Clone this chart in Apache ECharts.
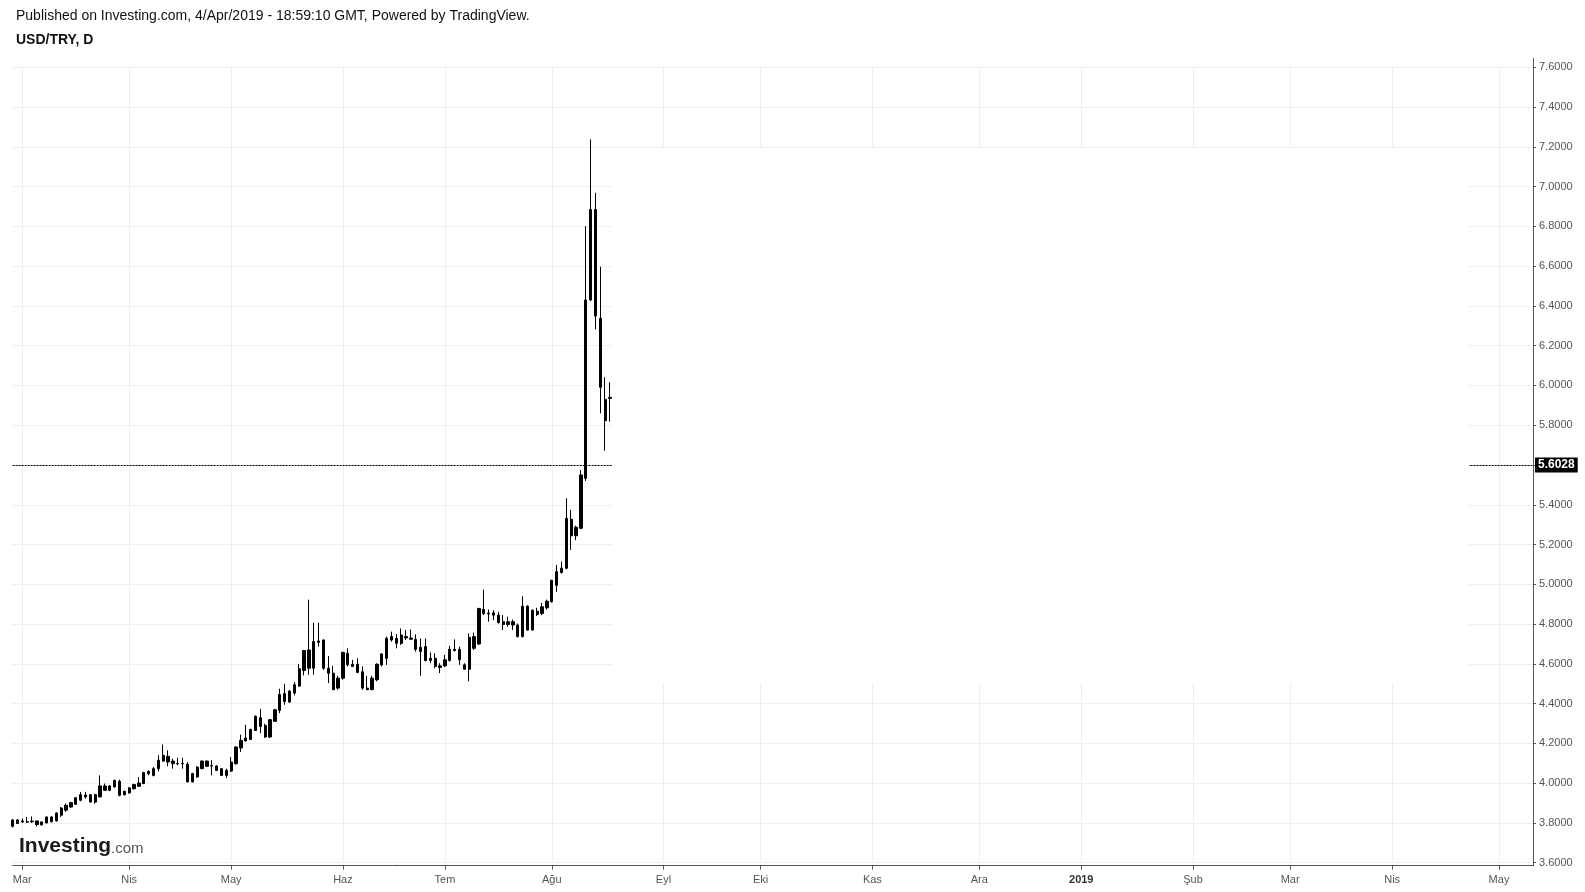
<!DOCTYPE html>
<html>
<head>
<meta charset="utf-8">
<script src="https://cdn.jsdelivr.net/npm/echarts@6/dist/echarts.min.js"></script>
<style>
html,body{margin:0;padding:0;background:#fff;}
#chart{width:1585px;height:892px;}
</style>
</head>
<body>
<div id="chart"></div>
<script>
// ---- data (USD/TRY daily) ----
const startDate = '2018-02-27';
const categoryCount = 314;
const monthNames = ['Oca','Şub','Mar','Nis','May','Haz','Tem','Ağu','Eyl','Eki','Kas','Ara'];
const yTicks = { min: 3.6, max: 7.6, step: 0.2 };
const lastPrice = 5.6028;
const headerText = 'Published on Investing.com, 4/Apr/2019 - 18:59:10 GMT, Powered by TradingView.';
const symbolText = 'USD/TRY, D';

const opens = [
3.783,3.797,3.805,3.806,3.806,3.810,3.790,3.800,3.806,3.810,
3.839,3.864,3.880,3.894,3.914,3.931,3.942,3.905,3.931,3.986,
3.964,3.981,4.009,3.942,3.951,3.972,3.984,3.998,4.048,4.039,
4.073,4.111,4.135,4.111,4.099,4.097,4.095,4.006,4.031,4.073,
4.111,4.086,4.086,4.073,4.039,4.061,4.098,4.177,4.212,4.220,
4.265,4.329,4.290,4.232,4.311,4.366,4.411,4.408,4.453,4.488,
4.567,4.670,4.578,4.715,4.720,4.578,4.553,4.478,4.528,4.653,
4.598,4.598,4.560,4.478,4.470,4.520,4.595,4.628,4.720,4.728,
4.703,4.737,4.730,4.723,4.683,4.687,4.617,4.628,4.590,4.590,
4.617,4.673,4.673,4.595,4.573,4.737,4.700,4.873,4.855,4.857,
4.845,4.812,4.798,4.812,4.795,4.737,4.890,4.770,4.865,4.853,
4.882,4.912,4.995,5.059,5.081,5.327,5.244,5.282,5.533,6.430,
6.885,6.337,5.930,5.935];
const highs = [
3.819,3.818,3.822,3.830,3.833,3.812,3.807,3.833,3.834,3.853,
3.880,3.897,3.906,3.930,3.956,3.956,3.945,3.947,4.039,3.998,
3.990,4.018,4.018,3.962,3.980,3.997,4.031,4.057,4.064,4.081,
4.140,4.195,4.165,4.123,4.128,4.128,4.106,4.052,4.085,4.115,
4.114,4.115,4.090,4.076,4.073,4.131,4.185,4.244,4.294,4.274,
4.341,4.374,4.299,4.323,4.374,4.475,4.500,4.468,4.508,4.600,
4.670,4.923,4.807,4.807,4.723,4.640,4.590,4.540,4.662,4.678,
4.620,4.628,4.587,4.540,4.540,4.603,4.653,4.737,4.762,4.750,
4.778,4.770,4.773,4.748,4.728,4.728,4.657,4.653,4.603,4.645,
4.690,4.723,4.687,4.603,4.753,4.757,4.882,4.973,4.873,4.870,
4.862,4.845,4.837,4.823,4.803,4.940,4.895,4.873,4.882,4.907,
4.923,5.023,5.098,5.115,5.433,5.374,5.295,5.575,6.801,7.237,
6.969,6.597,6.041,6.016];
const lows = [
3.777,3.795,3.800,3.800,3.800,3.783,3.786,3.798,3.803,3.808,
3.830,3.855,3.876,3.891,3.909,3.922,3.902,3.897,3.928,3.961,
3.960,3.977,3.934,3.938,3.948,3.968,3.982,3.995,4.039,4.034,
4.059,4.108,4.085,4.073,4.090,4.073,4.005,4.004,4.028,4.070,
4.082,4.039,4.061,4.036,4.026,4.056,4.093,4.157,4.210,4.217,
4.262,4.252,4.228,4.228,4.308,4.352,4.394,4.404,4.441,4.485,
4.542,4.545,4.545,4.687,4.570,4.503,4.468,4.470,4.520,4.587,
4.585,4.553,4.470,4.468,4.468,4.512,4.587,4.595,4.712,4.678,
4.695,4.720,4.720,4.662,4.540,4.612,4.603,4.578,4.553,4.583,
4.612,4.662,4.595,4.570,4.512,4.670,4.695,4.845,4.812,4.820,
4.803,4.770,4.787,4.770,4.733,4.733,4.767,4.767,4.840,4.845,
4.873,4.908,4.962,5.055,5.075,5.173,5.222,5.277,5.520,6.425,
6.282,5.860,5.672,5.818];
const closes = [
3.815,3.815,3.810,3.804,3.809,3.792,3.805,3.830,3.830,3.850,
3.875,3.889,3.902,3.927,3.942,3.940,3.905,3.942,3.986,3.964,
3.986,4.014,3.939,3.959,3.976,3.993,4.001,4.053,4.059,4.073,
4.115,4.140,4.106,4.098,4.097,4.099,4.006,4.048,4.081,4.111,
4.085,4.088,4.064,4.039,4.064,4.106,4.182,4.215,4.227,4.270,
4.336,4.285,4.232,4.319,4.369,4.446,4.450,4.463,4.495,4.575,
4.667,4.578,4.712,4.708,4.578,4.553,4.470,4.528,4.657,4.595,
4.587,4.557,4.478,4.470,4.528,4.598,4.650,4.728,4.737,4.703,
4.745,4.730,4.724,4.673,4.662,4.617,4.628,4.587,4.582,4.620,
4.673,4.667,4.620,4.573,4.733,4.678,4.878,4.853,4.851,4.845,
4.807,4.798,4.812,4.795,4.737,4.890,4.770,4.870,4.848,4.887,
4.915,5.020,5.064,5.081,5.332,5.244,5.287,5.550,6.430,6.885,
6.349,5.991,5.823,5.940];

// ---- category axis: weekdays ----
const dates = [];
(function(){
  const d = new Date(startDate + 'T00:00:00Z');
  while (dates.length < categoryCount) {
    const wd = d.getUTCDay();
    if (wd !== 0 && wd !== 6) dates.push(d.toISOString().slice(0,10));
    d.setUTCDate(d.getUTCDate() + 1);
  }
})();
const isMonthStart = dates.map((s, i) => i > 0 && s.slice(5,7) !== dates[i-1].slice(5,7));
const candleData = opens.map((o, i) => [o, closes[i], lows[i], highs[i]]);

const chart = echarts.init(document.getElementById('chart'), null, {renderer: 'canvas'});
const axisColor = '#555555';
const gridColor = '#efefef';
const FONT = 'Liberation Sans, Arial, sans-serif';
const showIdx = (idx) => isMonthStart[idx];

chart.setOption({
  animation: false,
  backgroundColor: '#ffffff',
  title: [
    {text: headerText, left: 16, top: 9, padding: 0,
     textStyle: {fontFamily: FONT, fontSize: 14, fontWeight: 'normal', color: '#111'}},
    {text: symbolText, left: 16, top: 33, padding: 0,
     textStyle: {fontFamily: FONT, fontSize: 14, fontWeight: 'bold', color: '#111'}}
  ],
  grid: {left: 12.6, right: 52, top: 67.3, bottom: 29.3, containLabel: false},
  xAxis: {
    type: 'category',
    data: dates,
    boundaryGap: false,
    offset: 3,
    axisLine: {show: true, lineStyle: {color: axisColor, width: 1}},
    axisTick: {show: true, interval: showIdx, length: 4, lineStyle: {color: axisColor}},
    axisLabel: {
      interval: showIdx, margin: 9, color: '#555',
      fontFamily: FONT, fontSize: 11,
      formatter: (v) => {
        const m = parseInt(v.slice(5,7), 10) - 1;
        return m === 0 ? '{b|' + v.slice(0,4) + '}' : monthNames[m];
      },
      rich: {b: {fontWeight: 'bold', color: '#333', fontSize: 11, fontFamily: FONT}}
    },
    splitLine: {show: true, interval: showIdx, lineStyle: {color: gridColor, width: 1}}
  },
  yAxis: {
    type: 'value',
    position: 'right',
    min: yTicks.min, max: yTicks.max, interval: yTicks.step,
    axisLine: {show: true, lineStyle: {color: axisColor, width: 1}},
    axisTick: {show: true, length: 3, lineStyle: {color: axisColor}},
    axisLabel: {margin: 6, color: '#555', fontFamily: FONT, fontSize: 11,
      formatter: (v) => v.toFixed(4)},
    splitLine: {show: true, lineStyle: {color: gridColor, width: 1}}
  },
  series: [{
    type: 'candlestick',
    data: candleData,
    barWidth: 2.8,
    clip: false,
    itemStyle: {color: '#000', color0: '#000', borderColor: '#000', borderColor0: '#000', borderColorDoji: '#000', borderWidth: 1},
    markLine: {
      silent: true, symbol: 'none', animation: false,
      data: [{yAxis: lastPrice}],
      lineStyle: {color: '#000', type: [2, 1], width: 1},
      label: {position: 'end', distance: 2, formatter: lastPrice.toFixed(4),
        backgroundColor: '#000', color: '#fff', fontWeight: 'bold', fontSize: 12,
        fontFamily: FONT, padding: [2, 3, 1, 3]},
      emphasis: {disabled: true}
    }
  }],
  graphic: [
    {type: 'rect', z: 100, silent: true, shape: {x: 612, y: 148, width: 857, height: 535}, style: {fill: '#ffffff'}},
    {type: 'line', z: 101, silent: true, shape: {x1: 1533.5, y1: 58, x2: 1533.5, y2: 866}, style: {stroke: axisColor, lineWidth: 1}},
    {type: 'text', z: 101, silent: true, style: {text: 'Investing', x: 19, y: 846, verticalAlign: 'middle',
      font: 'bold 21px "Liberation Sans", Arial, sans-serif', fill: '#1b1b1b'}},
    {type: 'text', z: 101, silent: true, style: {text: '.com', x: 111, y: 849, verticalAlign: 'middle',
      font: '15px "Liberation Sans", Arial, sans-serif', fill: '#555'}}
  ]
});
</script>
</body>
</html>
